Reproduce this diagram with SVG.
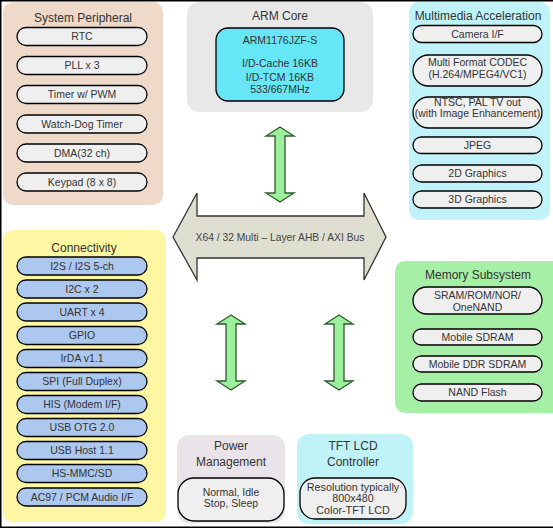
<svg xmlns="http://www.w3.org/2000/svg" width="553" height="529" viewBox="0 0 553 529">
<defs>
<style>
text{font-family:"Liberation Sans",Arial,sans-serif;fill:#333;text-anchor:middle}
.t{font-size:12px}
.p{font-size:10.5px}
.pill{fill:#efefef;stroke:#000;stroke-width:1.3}
.cpill{fill:#adc8ee;stroke:#000;stroke-width:1.3}
.garrow{fill:#9cf09c;stroke:#2f5a2f;stroke-width:1.3}
</style>
</defs>
<rect x="0" y="0" width="553" height="529" fill="#fff"/>
<rect x="0.75" y="0.75" width="600" height="526.5" fill="none" stroke="#000" stroke-width="1.5"/>

<g id="system-peripheral">
<rect x="3" y="2" width="160" height="203" rx="10" fill="#efd9c9"/>
<text class="t" x="83" y="21.5">System Peripheral</text>
<rect class="pill" x="17" y="27.5" width="130" height="18" rx="9"/><text class="p" x="82" y="40.3">RTC</text>
<rect class="pill" x="17" y="56.5" width="130" height="18" rx="9"/><text class="p" x="82" y="69.3">PLL x 3</text>
<rect class="pill" x="17" y="85.5" width="130" height="18" rx="9"/><text class="p" x="82" y="98.3">Timer w/ PWM</text>
<rect class="pill" x="17" y="115" width="130" height="18" rx="9"/><text class="p" x="82" y="127.8">Watch-Dog Timer</text>
<rect class="pill" x="17" y="144" width="130" height="18" rx="9"/><text class="p" x="82" y="156.8">DMA(32 ch)</text>
<rect class="pill" x="17" y="173" width="130" height="18" rx="9"/><text class="p" x="82" y="185.8">Keypad (8 x 8)</text>
</g>

<g id="arm-core">
<rect x="187" y="2" width="186" height="110" rx="12" fill="#e8e8e8"/>
<text class="t" x="280" y="19.5">ARM Core</text>
<rect x="216" y="28" width="128" height="73" rx="12" fill="#66e6f6" stroke="#000" stroke-width="1.3"/>
<text class="p" x="280" y="43.8">ARM1176JZF-S</text>
<text class="p" x="280" y="67">I/D-Cache 16KB</text>
<text class="p" x="280" y="80.5">I/D-TCM 16KB</text>
<text class="p" x="280" y="93">533/667MHz</text>
</g>

<g id="multimedia">
<rect x="409" y="2" width="141" height="218" rx="10" fill="#bff3f9"/>
<text class="t" x="478" y="19.5">Multimedia Acceleration</text>
<rect class="pill" x="413" y="25.5" width="129" height="17" rx="8.5"/><text class="p" x="477.5" y="37.8">Camera I/F</text>
<rect class="pill" x="413" y="55" width="129" height="31" rx="15.5"/><text class="p" x="477.5" y="66">Multi Format CODEC</text><text class="p" x="477.5" y="77.5">(H.264/MPEG4/VC1)</text>
<rect class="pill" x="413" y="97" width="129" height="31" rx="15.5"/><text class="p" x="477.5" y="106">NTSC, PAL TV out</text><text class="p" x="477.5" y="117">(with Image Enhancement)</text>
<rect class="pill" x="413" y="137" width="129" height="16.5" rx="8.2"/><text class="p" x="477.5" y="149">JPEG</text>
<rect class="pill" x="413" y="165" width="129" height="17" rx="8.5"/><text class="p" x="477.5" y="177.3">2D Graphics</text>
<rect class="pill" x="413" y="191" width="129" height="17" rx="8.5"/><text class="p" x="477.5" y="203.3">3D Graphics</text>
</g>

<g id="connectivity">
<rect x="3" y="230" width="163" height="292" rx="10" fill="#fdf6a2"/>
<text class="t" x="84" y="252">Connectivity</text>
<rect class="cpill" x="17" y="257" width="130" height="18" rx="9"/><text class="p" x="82" y="269.8">I2S / I2S 5-ch</text>
<rect class="cpill" x="17" y="280" width="130" height="18" rx="9"/><text class="p" x="82" y="292.8">I2C x 2</text>
<rect class="cpill" x="17" y="303" width="130" height="18" rx="9"/><text class="p" x="82" y="315.8">UART x 4</text>
<rect class="cpill" x="17" y="326.5" width="130" height="18" rx="9"/><text class="p" x="82" y="339.3">GPIO</text>
<rect class="cpill" x="17" y="349.5" width="130" height="18" rx="9"/><text class="p" x="82" y="362.3">IrDA v1.1</text>
<rect class="cpill" x="17" y="372.5" width="130" height="18" rx="9"/><text class="p" x="82" y="385.3">SPI (Full Duplex)</text>
<rect class="cpill" x="17" y="395.5" width="130" height="18" rx="9"/><text class="p" x="82" y="408.3">HIS (Modem I/F)</text>
<rect class="cpill" x="17" y="418.5" width="130" height="18" rx="9"/><text class="p" x="82" y="431.3">USB OTG 2.0</text>
<rect class="cpill" x="17" y="441.5" width="130" height="18" rx="9"/><text class="p" x="82" y="454.3">USB Host 1.1</text>
<rect class="cpill" x="17" y="464.5" width="130" height="18" rx="9"/><text class="p" x="82" y="477.3">HS-MMC/SD</text>
<rect class="cpill" x="17" y="488" width="130" height="18" rx="9"/><text class="p" x="82" y="500.8">AC97 / PCM Audio I/F</text>
</g>

<g id="memory">
<rect x="395" y="261" width="168" height="152" rx="10" fill="#a6efa6"/>
<text class="t" x="478" y="279">Memory Subsystem</text>
<rect class="pill" x="413" y="287" width="129" height="27" rx="13.5"/><text class="p" x="477.5" y="298.8">SRAM/ROM/NOR/</text><text class="p" x="477.5" y="311">OneNAND</text>
<rect class="pill" x="413" y="329" width="129" height="16" rx="8"/><text class="p" x="477.5" y="340.5">Mobile SDRAM</text>
<rect class="pill" x="413" y="356" width="129" height="16" rx="8"/><text class="p" x="477.5" y="367.5">Mobile DDR SDRAM</text>
<rect class="pill" x="413" y="384" width="129" height="17" rx="8.5"/><text class="p" x="477.5" y="396">NAND Flash</text>
</g>

<g id="power">
<rect x="177" y="435" width="108" height="88" rx="12" fill="#ebe3ea"/>
<text class="t" x="231" y="450">Power</text>
<text class="t" x="231" y="466">Management</text>
<rect class="pill" x="178" y="478" width="106" height="43" rx="16"/>
<text class="p" x="231" y="496">Normal, Idle</text>
<text class="p" x="231" y="507">Stop, Sleep</text>
</g>

<g id="tft-lcd">
<rect x="297" y="434" width="116" height="90" rx="12" fill="#c0f3f8"/>
<text class="t" x="353" y="450">TFT LCD</text>
<text class="t" x="353" y="466">Controller</text>
<rect class="pill" x="300" y="478" width="106" height="41" rx="15"/>
<text class="p" x="353" y="491" style="font-size:10.8px">Resolution typically</text>
<text class="p" x="353" y="502" style="font-size:10.8px">800x480</text>
<text class="p" x="353" y="514" style="font-size:10.8px">Color-TFT LCD</text>
</g>

<g id="bus">
<polygon points="173,237 197,193 197,216 364,216 364,193 386,237 364,280 364,258 197,258 197,280" fill="#dfdfd1" stroke="#333" stroke-width="1.3"/>
<text x="280" y="240.5" style="font-size:10.3px;fill:#444">X64 / 32 Multi – Layer AHB / AXI Bus</text>
</g>

<g id="connectors">
<polygon class="garrow" points="280,127 294,136 285,136 285,193 294,193 280,202 266,193 275,193 275,136 266,136"/>
<polygon class="garrow" points="231,315 245,324 236,324 236,381 245,381 231,390 217,381 226,381 226,324 217,324"/>
<polygon class="garrow" points="339,315 353,324 344,324 344,381 353,381 339,390 325,381 334,381 334,324 325,324"/>
</g>
</svg>
